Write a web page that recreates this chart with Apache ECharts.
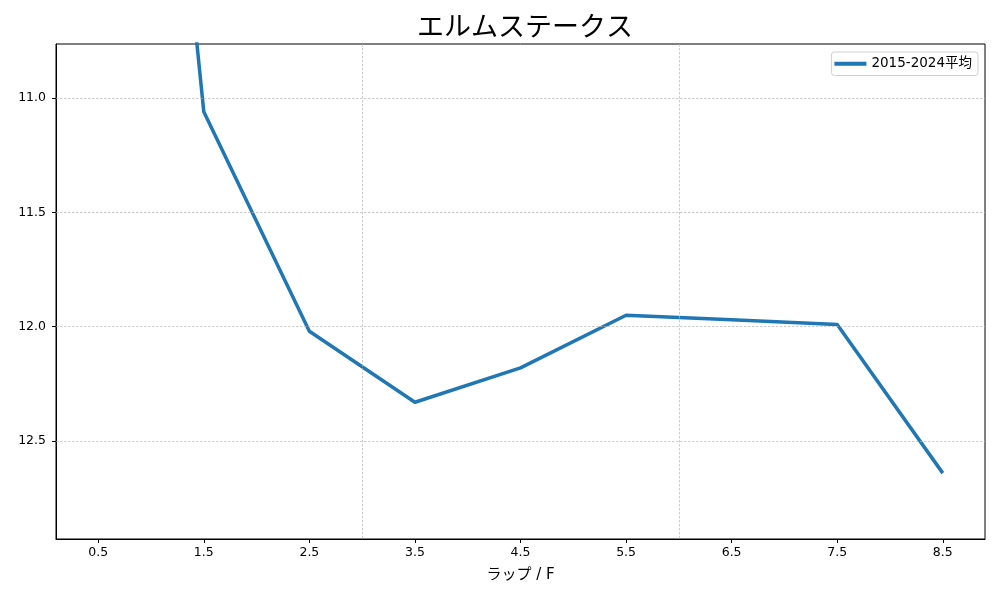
<!DOCTYPE html>
<html>
<head>
<meta charset="utf-8">
<script src="https://cdn.jsdelivr.net/npm/echarts@6/dist/echarts.min.js"></script>
<style>html,body{margin:0;padding:0;background:#fff;}#c{width:1000px;height:600px;}</style>
</head>
<body>
<div id="c"></div>
<script>
const titleText = 'エルムステークス';
const seriesName = '2015-2024平均';
const lapX = [0.5, 1.5, 2.5, 3.5, 4.5, 5.5, 6.5, 7.5, 8.5];
const lapTimes = [6.5, 11.06, 12.02, 12.33, 12.18, 11.95, 11.97, 11.99, 12.64];
const xTickLabels = [0.5, 1.5, 2.5, 3.5, 4.5, 5.5, 6.5, 7.5, 8.5];
const yTickLabels = [11.0, 11.5, 12.0, 12.5];
const xGridLines = [3, 6];
const xName = 'ラップ / F';

const FONT = '"DejaVu Sans", "Noto Sans CJK JP", sans-serif';
const chart = echarts.init(document.getElementById('c'), null, {renderer: 'canvas'});
const gridStyle = {color: '#b8b8b8', width: 0.7, type: [2.5, 1.5]};
const markData = yTickLabels.map(v => ({yAxis: v})).concat(xGridLines.map(v => ({xAxis: v})));

chart.setOption({
  animation: false,
  backgroundColor: '#fff',
  title: {
    text: titleText, left: 520, top: 7, textAlign: 'center',
    textStyle: {fontFamily: '"Noto Sans CJK JP", sans-serif', fontSize: 27, fontWeight: 'normal', color: '#000'}
  },
  legend: {
    right: 22, top: 52,
    data: [seriesName],
    itemWidth: 32, itemHeight: 4, itemGap: 8,
    padding: [5, 6, 5, 3],
    borderColor: '#d0d0d0', borderWidth: 1, borderRadius: 3,
    backgroundColor: '#fff',
    icon: 'rect',
    textStyle: {fontFamily: FONT, fontSize: 13.5, color: '#000'}
  },
  grid: {
    left: 56, right: 15, top: 44, bottom: 61,
    show: true, borderColor: '#000', borderWidth: 1, containLabel: false
  },
  xAxis: {
    type: 'value', min: 0.1, max: 8.9,
    name: xName, nameLocation: 'middle', nameGap: 29,
    nameTextStyle: {fontFamily: FONT, fontSize: 15, color: '#000'},
    axisLine: {show: true, lineStyle: {color: '#000', width: 1}},
    axisTick: {show: true, customValues: xTickLabels, length: 4, lineStyle: {color: '#000'}},
    axisLabel: {customValues: xTickLabels, formatter: v => v.toFixed(1), fontFamily: FONT, fontSize: 12.5, color: '#000', margin: 7},
    splitLine: {show: false}
  },
  yAxis: {
    type: 'value', inverse: true, min: 10.764, max: 12.928,
    axisLine: {show: true, lineStyle: {color: '#000', width: 1}},
    axisTick: {show: true, customValues: yTickLabels, length: 4, lineStyle: {color: '#000'}},
    axisLabel: {customValues: yTickLabels, formatter: v => v.toFixed(1), fontFamily: FONT, fontSize: 12.5, color: '#000', margin: 10},
    splitLine: {show: false}
  },
  series: [{
    name: seriesName,
    type: 'line',
    data: lapX.map((x, i) => [x, lapTimes[i]]),
    showSymbol: false, symbol: 'none',
    clip: true,
    lineStyle: {color: '#1f77b4', width: 3.5},
    itemStyle: {color: '#1f77b4'},
    markLine: {
      silent: true, symbol: 'none', animation: false,
      label: {show: false},
      lineStyle: gridStyle,
      emphasis: {disabled: true},
      data: markData
    },
    z: 3
  }]
});
</script>
</body>
</html>
